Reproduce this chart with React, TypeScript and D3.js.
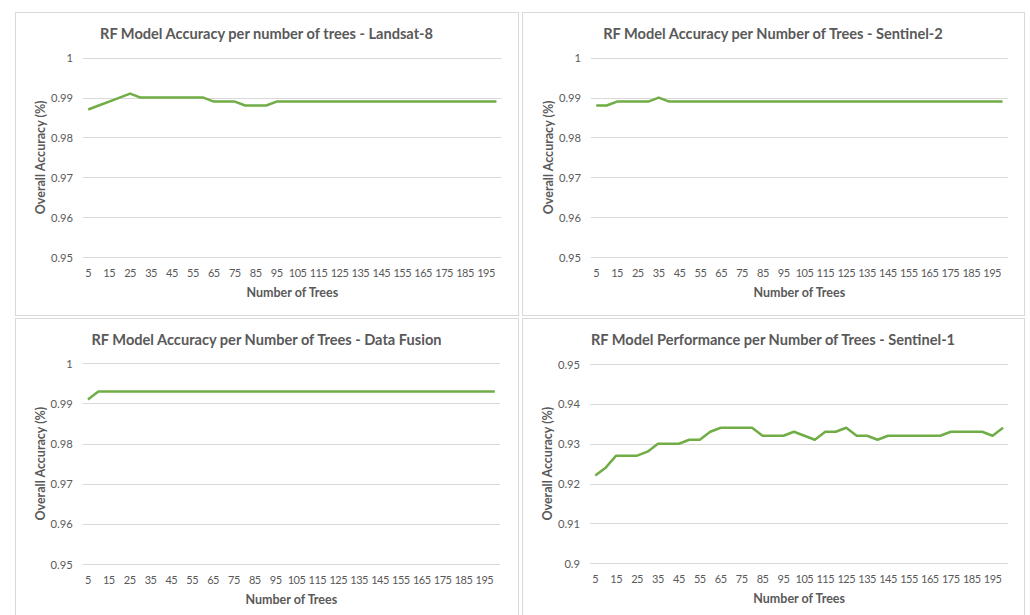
import React from 'react';
import * as d3 from 'd3';

// number of trees (categories on the x axis)
const trees = [5, 10, 15, 20, 25, 30, 35, 40, 45, 50, 55, 60, 65, 70, 75, 80, 85, 90, 95, 100,
  105, 110, 115, 120, 125, 130, 135, 140, 145, 150, 155, 160, 165, 170, 175, 180, 185, 190, 195, 200];

const landsat8 = [0.987, 0.988, 0.989, 0.990, 0.991, 0.990, 0.990, 0.990, 0.990, 0.990,
  0.990, 0.990, 0.989, 0.989, 0.989, 0.988, 0.988, 0.988, 0.989, 0.989,
  0.989, 0.989, 0.989, 0.989, 0.989, 0.989, 0.989, 0.989, 0.989, 0.989,
  0.989, 0.989, 0.989, 0.989, 0.989, 0.989, 0.989, 0.989, 0.989, 0.989];

const sentinel2 = [0.988, 0.988, 0.989, 0.989, 0.989, 0.989, 0.990, 0.989, 0.989, 0.989,
  0.989, 0.989, 0.989, 0.989, 0.989, 0.989, 0.989, 0.989, 0.989, 0.989,
  0.989, 0.989, 0.989, 0.989, 0.989, 0.989, 0.989, 0.989, 0.989, 0.989,
  0.989, 0.989, 0.989, 0.989, 0.989, 0.989, 0.989, 0.989, 0.989, 0.989];

const dataFusion = [0.991, 0.993, 0.993, 0.993, 0.993, 0.993, 0.993, 0.993, 0.993, 0.993,
  0.993, 0.993, 0.993, 0.993, 0.993, 0.993, 0.993, 0.993, 0.993, 0.993,
  0.993, 0.993, 0.993, 0.993, 0.993, 0.993, 0.993, 0.993, 0.993, 0.993,
  0.993, 0.993, 0.993, 0.993, 0.993, 0.993, 0.993, 0.993, 0.993, 0.993];

const sentinel1 = [0.922, 0.924, 0.927, 0.927, 0.927, 0.928, 0.930, 0.930, 0.930, 0.931,
  0.931, 0.933, 0.934, 0.934, 0.934, 0.934, 0.932, 0.932, 0.932, 0.933,
  0.932, 0.931, 0.933, 0.933, 0.934, 0.932, 0.932, 0.931, 0.932, 0.932,
  0.932, 0.932, 0.932, 0.932, 0.933, 0.933, 0.933, 0.933, 0.932, 0.934];

const ticksHigh = [0.95, 0.96, 0.97, 0.98, 0.99, 1];
const ticksLow = [0.9, 0.91, 0.92, 0.93, 0.94, 0.95];

const panels = [
  { title: 'RF Model Accuracy per number of trees - Landsat-8', values: landsat8, ticks: ticksHigh,
    box: [15, 12, 503, 303], plot: [83, 57.7, 501.7, 257] },
  { title: 'RF Model Accuracy per Number of Trees - Sentinel-2', values: sentinel2, ticks: ticksHigh,
    box: [522, 12, 502, 303], plot: [591, 57.7, 1007.7, 257] },
  { title: 'RF Model Accuracy per Number of Trees - Data Fusion', values: dataFusion, ticks: ticksHigh,
    box: [15, 318, 503, 310], plot: [82.7, 363.3, 500, 564] },
  { title: 'RF Model Performance per Number of Trees - Sentinel-1', values: sentinel1, ticks: ticksLow,
    box: [522, 318, 502, 310], plot: [590, 364, 1008.3, 563.3] },
];

const FONT = 'Lato, "Open Sans", sans-serif';
const TEXT = '#595959';

const Panel = ({ p }) => {
  const [bx, by, bw, bh] = p.box;
  const [x0, y0, x1, y1] = p.plot;
  const x = d3.scaleBand().domain(trees.map(String)).range([x0, x1]);
  const y = d3.scaleLinear().domain([p.ticks[0], p.ticks[p.ticks.length - 1]]).range([y1, y0]);
  const line = d3.line<number>()
    .x((d, i) => x(String(trees[i]))! + x.bandwidth() / 2)
    .y(d => y(d));
  const fmt = (v: number) => String(+v.toFixed(2));
  return (
    <g>
      <rect x={bx + 0.5} y={by + 0.5} width={bw} height={bh} fill="#fff" stroke="#d9d9d9" />
      <text x={bx + bw / 2} y={by + 21.5} textAnchor="middle" dominantBaseline="central"
        fontFamily={FONT} fontWeight="bold" fontSize={14.6} fill={TEXT}>{p.title}</text>
      {p.ticks.map(t => (
        <g key={t}>
          <line x1={x0} x2={x1} y1={Math.round(y(t)) + 0.5} y2={Math.round(y(t)) + 0.5} stroke="#d9d9d9" />
          <text x={x0 - 10} y={y(t)} textAnchor="end" dominantBaseline="central"
            fontFamily={FONT} fontSize={11.2} fill={TEXT}>{fmt(t)}</text>
        </g>
      ))}
      {trees.map((t, i) => i % 2 === 0 && (
        <text key={t} x={x(String(t))! + x.bandwidth() / 2} y={y1 + 15} textAnchor="middle"
          dominantBaseline="central" fontFamily={FONT} fontSize={11} letterSpacing={-0.5}
          fill={TEXT}>{t}</text>
      ))}
      <path d={line(p.values)!} fill="none" stroke="#70ad47" strokeWidth={2.5} strokeLinejoin="round" />
      <text x={(x0 + x1) / 2} y={y1 + 35} textAnchor="middle" dominantBaseline="central"
        fontFamily={FONT} fontWeight="bold" fontSize={12.5} fill={TEXT}>Number of Trees</text>
      <text transform={`translate(${x0 - 42.5},${(y0 + y1) / 2}) rotate(-90)`} textAnchor="middle"
        dominantBaseline="central" fontFamily={FONT} fontWeight="bold" fontSize={12.5} fill={TEXT}>
        Overall Accuracy (%)
      </text>
    </g>
  );
};

export default function App() {
  return (
    <svg width={1030} height={615} style={{ position: 'absolute', left: 0, top: 0, background: '#fff' }}>
      <rect width={1030} height={615} fill="#fff" />
      {panels.map(p => <Panel key={p.title} p={p} />)}
    </svg>
  );
}
